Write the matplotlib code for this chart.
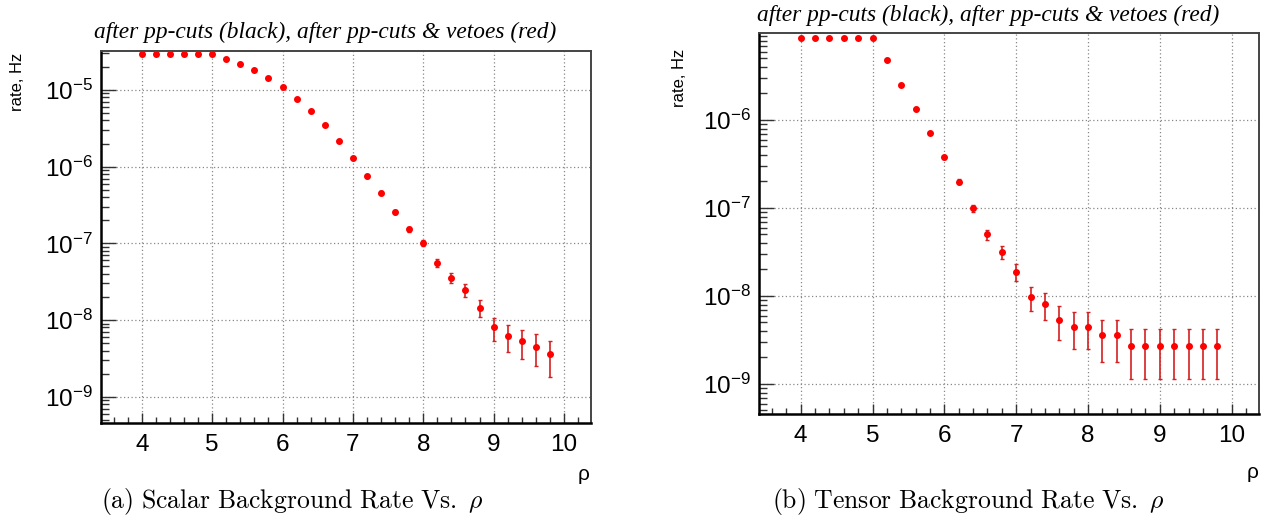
import numpy as np
import matplotlib
matplotlib.use("Agg")
import matplotlib.pyplot as plt
from matplotlib.ticker import MultipleLocator, LogLocator, NullFormatter

plt.rcParams["font.family"] = ["Liberation Sans", "DejaVu Sans"]
plt.rcParams["mathtext.fontset"] = "custom"
plt.rcParams["mathtext.rm"] = "Liberation Sans"
plt.rcParams["mathtext.it"] = "Liberation Sans:italic"
plt.rcParams["mathtext.default"] = "regular"

# rho bins (same for both panels)
rho = [4.0, 4.2, 4.4, 4.6, 4.8, 5.0, 5.2, 5.4, 5.6, 5.8,
       6.0, 6.2, 6.4, 6.6, 6.8, 7.0, 7.2, 7.4, 7.6, 7.8,
       8.0, 8.2, 8.4, 8.6, 8.8, 9.0, 9.2, 9.4, 9.6, 9.8]

# scalar background rate (Hz), after pp-cuts & vetoes
scalar_rate = [2.95e-5, 2.95e-5, 2.95e-5, 2.95e-5, 2.95e-5, 2.95e-5,
               2.57e-5, 2.21e-5, 1.81e-5, 1.43e-5, 1.08e-5, 7.7e-6,
               5.37e-6, 3.47e-6, 2.16e-6, 1.29e-6, 7.46e-7, 4.57e-7,
               2.57e-7, 1.53e-7, 1.02e-7, 5.57e-8, 3.57e-8, 2.44e-8,
               1.44e-8, 8.0e-9, 6.24e-9, 5.3e-9, 4.5e-9, 3.6e-9]
scalar_err = [1.6e-7, 1.6e-7, 1.6e-7, 1.6e-7, 1.6e-7, 1.6e-7,
              1.5e-7, 1.4e-7, 1.3e-7, 1.1e-7, 9.8e-8, 8.3e-8,
              7.0e-8, 5.6e-8, 4.4e-8, 3.4e-8, 2.6e-8, 2.0e-8,
              1.5e-8, 1.2e-8, 9.6e-9, 7.1e-9, 5.7e-9, 4.7e-9,
              3.6e-9, 2.7e-9, 2.4e-9, 2.2e-9, 2.0e-9, 1.8e-9]

# tensor background rate (Hz), after pp-cuts & vetoes
tensor_rate = [8.65e-6, 8.65e-6, 8.65e-6, 8.65e-6, 8.65e-6, 8.65e-6,
               4.76e-6, 2.52e-6, 1.34e-6, 7.1e-7, 3.75e-7, 1.99e-7,
               9.9e-8, 5.0e-8, 3.15e-8, 1.89e-8, 9.8e-9, 8.05e-9,
               5.4e-9, 4.5e-9, 4.5e-9, 3.6e-9, 3.6e-9, 2.7e-9,
               2.7e-9, 2.7e-9, 2.7e-9, 2.7e-9, 2.7e-9, 2.7e-9]
tensor_err = [8.8e-8, 8.8e-8, 8.8e-8, 8.8e-8, 8.8e-8, 8.8e-8,
              6.6e-8, 4.8e-8, 3.5e-8, 2.5e-8, 1.85e-8, 1.34e-8,
              9.4e-9, 6.7e-9, 5.3e-9, 4.1e-9, 3.0e-9, 2.7e-9,
              2.2e-9, 2.0e-9, 2.0e-9, 1.8e-9, 1.8e-9, 1.56e-9,
              1.56e-9, 1.56e-9, 1.56e-9, 1.56e-9, 1.56e-9, 1.56e-9]

title = "after pp-cuts (black), after pp-cuts & vetoes (red)"
captions = [r"$\mathrm{(a)\ Scalar\ Background\ Rate\ Vs.}\ \mathit{\rho}$",
            r"$\mathrm{(b)\ Tensor\ Background\ Rate\ Vs.}\ \mathit{\rho}$"]

W, H = 1269, 524
fig = plt.figure(figsize=(W / 100, H / 100), dpi=100)


def px_axes(x0, y0, x1, y1):
    # pixel box (top-left origin) -> figure axes
    return fig.add_axes([x0 / W, 1 - y1 / H, (x1 - x0) / W, (y1 - y0) / H])


def style_root(ax, ylim):
    ax.set_yscale("log")
    ax.set_xlim(3.42, 10.38)
    ax.set_ylim(*ylim)
    ax.xaxis.set_major_locator(MultipleLocator(1))
    ax.xaxis.set_minor_locator(MultipleLocator(0.2))
    ax.yaxis.set_major_locator(LogLocator(base=10, numticks=20))
    ax.yaxis.set_minor_locator(LogLocator(base=10, subs=np.arange(2, 10), numticks=20))
    ax.yaxis.set_minor_formatter(NullFormatter())
    ax.tick_params(axis="both", which="both", direction="in", colors="#333333",
                   top=False, right=False, labelcolor="black")
    ax.tick_params(axis="y", which="major", length=11, width=1.0, labelsize=17.5, pad=6)
    ax.tick_params(axis="y", which="minor", length=6, width=1.0)
    ax.tick_params(axis="x", which="major", length=7, width=1.0, labelsize=17.5, pad=8)
    ax.tick_params(axis="x", which="minor", length=4, width=1.0)
    ax.grid(True, which="major", color="#888888", linestyle=(0, (1, 2)), linewidth=0.9)
    for side in ["left", "bottom"]:
        ax.spines[side].set_linewidth(1.8)
        ax.spines[side].set_color("black")
    for side in ["top", "right"]:
        ax.spines[side].set_linewidth(1.4)
        ax.spines[side].set_color("#444444")


panels = [
    dict(box=(101, 50.7, 590.7, 422.7), ylim=(4.58e-10, 3.25e-5),
         rate=scalar_rate, err=scalar_err,
         title_xy=(325, 32), ylab_xy=(17, 82), rho_xy=(584, 475), cap_xy=(292, 508)),
    dict(box=(759, 33.3, 1259, 414), ylim=(4.56e-10, 9.66e-6),
         rate=tensor_rate, err=tensor_err,
         title_xy=(988, 15), ylab_xy=(680, 78), rho_xy=(1253, 472), cap_xy=(968, 508)),
]

for p, cap in zip(panels, captions):
    ax = px_axes(*p["box"])
    style_root(ax, p["ylim"])
    ax.errorbar(rho, p["rate"], yerr=p["err"], fmt="o", color="red", ms=4,
                mec="red", ecolor="#d42020", elinewidth=1.2, capsize=1.5,
                capthick=1.0, zorder=3)
    fig.text(p["title_xy"][0] / W, 1 - p["title_xy"][1] / H, title,
             family="Liberation Serif", style="italic", fontsize=16.8,
             ha="center", va="center")
    fig.text(p["ylab_xy"][0] / W, 1 - p["ylab_xy"][1] / H, "rate, Hz",
             fontsize=12, rotation=90, ha="center", va="center")
    fig.text(p["rho_xy"][0] / W, 1 - p["rho_xy"][1] / H, "ρ",
             fontsize=15, ha="center", va="center")
    fig.text(p["cap_xy"][0] / W, 1 - p["cap_xy"][1] / H, cap,
             math_fontfamily="cm", fontsize=18.5, ha="center", va="baseline")

fig.savefig("out.png", dpi=100)
